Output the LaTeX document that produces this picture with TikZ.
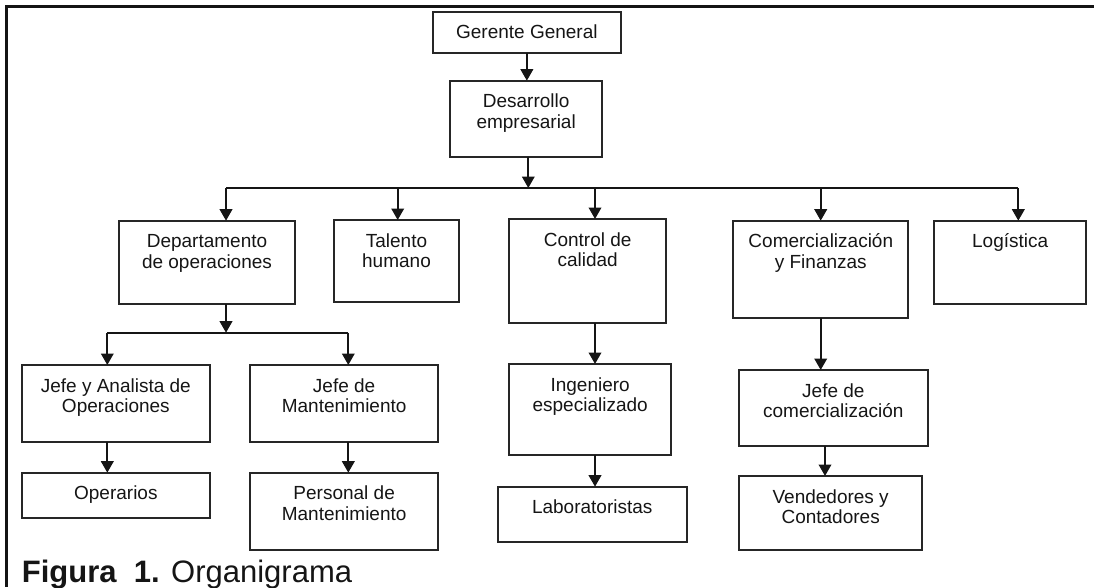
\documentclass[tikz,border=0pt]{standalone}
\usepackage{fontspec}
\setmainfont{Liberation Sans}
\usetikzlibrary{arrows.meta}

\definecolor{ink}{HTML}{151515}
\definecolor{edge}{HTML}{262626}

% Box content: fixed size, text centred and hung from the top
\newcommand{\orgtext}[3]{%
  \parbox[c][#2][t]{#1}{\fontsize{19}{20.7}\selectfont\centering
    \rule{0pt}{27pt}#3\par}}

\tikzset{
  orgbox/.style={draw=edge, line width=1.7pt, inner sep=0pt, outer sep=0pt,
                 anchor=north west, text=ink},
  link/.style={draw=ink, line width=2.1pt},
  arr/.style={link, -{Triangle[width=12.5pt,length=11.5pt]}},
  frameline/.style={draw=black!92, line width=2.5pt}
}

\begin{document}
\begin{tikzpicture}[x=1pt,y=-1pt]
\useasboundingbox (0,0) rectangle (1094,587);

% outer frame (top and left edges)
\draw[frameline] (1094,6.7) -- (6.7,6.7) -- (6.7,587);

% boxes
\node[orgbox] (ger) at (432.7,11.7) {\orgtext{188.3pt}{41.6pt}{Gerente General}};
\node[orgbox] (des) at (450,80.7)   {\orgtext{152.3pt}{76pt}{Desarrollo\\empresarial}};

\node[orgbox] (dep) at (119.3,220.7) {\orgtext{175.4pt}{83.3pt}{Departamento\\de operaciones}};
\node[orgbox] (tal) at (333.7,220)   {\orgtext{125.6pt}{81.7pt}{Talento\\humano}};
\node[orgbox] (con) at (509.3,219)   {\orgtext{156.7pt}{104.3pt}{Control de\\calidad}};
\node[orgbox] (com) at (733.3,220.7) {\orgtext{175pt}{97.6pt}{Comercialización\\y Finanzas}};
\node[orgbox] (log) at (934.3,220.7) {\orgtext{151.7pt}{83.3pt}{Logística}};

\node[orgbox] (jya) at (21.7,365)  {\orgtext{188.3pt}{77.3pt}{Jefe y Analista de\\Operaciones}};
\node[orgbox] (jm)  at (250,365)   {\orgtext{188.3pt}{77.3pt}{Jefe de\\Mantenimiento}};
\node[orgbox] (ope) at (21.7,472.7) {\orgtext{188.3pt}{45.6pt}{Operarios}};
\node[orgbox] (pm)  at (250,472.7) {\orgtext{188.3pt}{77.3pt}{Personal de\\Mantenimiento}};

\node[orgbox] (ing) at (509.3,364)   {\orgtext{161.7pt}{91pt}{Ingeniero\\especializado}};
\node[orgbox] (lab) at (497.7,486.7) {\orgtext{189pt}{55pt}{Laboratoristas}};

\node[orgbox] (jdc) at (739,370) {\orgtext{188.7pt}{76pt}{Jefe de\\comercialización}};
\node[orgbox] (ven) at (739,476) {\orgtext{183.3pt}{74pt}{Vendedores y\\Contadores}};

% branch points on the distribution lines
\coordinate (hub)  at (528.3,188);
\coordinate (tapD) at (226,188);
\coordinate (tapT) at (397.7,188);
\coordinate (tapC) at (595,188);
\coordinate (tapK) at (820.7,188);
\coordinate (tapL) at (1018.3,188);
\coordinate (hub2)  at (226,332.7);
\coordinate (tapJA) at (107.3,332.7);
\coordinate (tapJM) at (348.3,332.7);
\coordinate (colV)  at (825,0);

% top of the chart
\draw[arr] (ger.south) -- (ger.south |- des.north);
\draw[arr] (des.south -| hub) -- (hub);
\draw[link] (tapD) -- (tapL);
\foreach \t/\b in {tapD/dep, tapT/tal, tapC/con, tapK/com, tapL/log}
  \draw[arr] (\t) -- (\t |- \b.north);

% operations branch
\draw[arr] (dep.south -| hub2) -- (hub2);
\draw[link] (tapJA) -- (tapJM);
\draw[arr] (tapJA) -- (tapJA |- jya.north);
\draw[arr] (tapJM) -- (tapJM |- jm.north);
\draw[arr] (jya.south -| tapJA) -- (ope.north -| tapJA);
\draw[arr] (jm.south -| tapJM) -- (pm.north -| tapJM);

% quality branch
\draw[arr] (con.south -| tapC) -- (ing.north -| tapC);
\draw[arr] (ing.south -| tapC) -- (lab.north -| tapC);

% commercial branch
\draw[arr] (com.south -| tapK) -- (jdc.north -| tapK);
\draw[arr] (jdc.south -| colV) -- (ven.north -| colV);

% caption
\node[anchor=base west, inner sep=0pt, text=ink, font=\fontsize{31}{34}\selectfont]
  (cap) at (21.7,582) {\textbf{Figura\ \ 1.} Organigrama};
\end{tikzpicture}
\end{document}
